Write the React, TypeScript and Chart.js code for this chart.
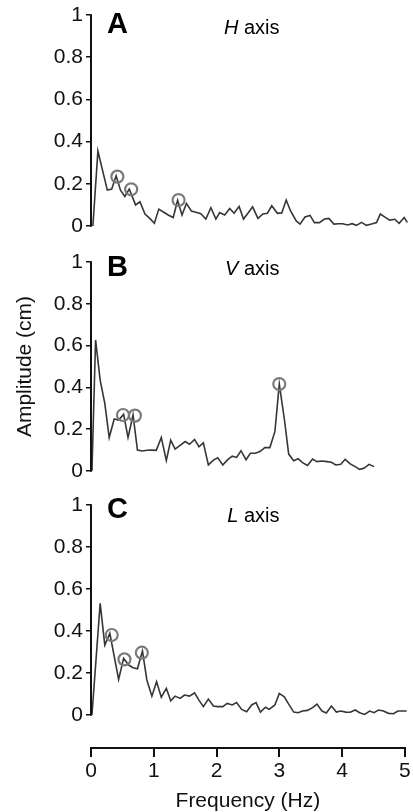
import React, { useEffect, useRef } from "react";
import { Chart, registerables } from "chart.js";

Chart.register(...registerables);

const FONT_FAMILY = "'Liberation Sans', Arial, Helvetica, sans-serif";
const INK = "#111111";
const LINE_COLOR = "#363636";
const CIRCLE_COLOR = "#7a7a7a";

// Axis ticks and labels
const yTickValues = [0, 0.2, 0.4, 0.6, 0.8, 1];
const xTickValues = [0, 1, 2, 3, 4, 5];
const panelLetters = ["A", "B", "C"];
const axisNames = ["H", "V", "L"];
const xAxisTitle = "Frequency (Hz)";
const yAxisTitle = "Amplitude (cm)";

// Panel A: H axis
const hFreq = [0.03, 0.11, 0.26, 0.33, 0.40, 0.47, 0.54, 0.61, 0.71, 0.78, 0.86, 0.94, 1.01, 1.08, 1.16, 1.23, 1.31, 1.38, 1.45, 1.52, 1.60, 1.67, 1.75, 1.83, 1.91, 1.99, 2.05, 2.13, 2.21, 2.28, 2.36, 2.43, 2.50, 2.575, 2.66, 2.74, 2.81, 2.88, 2.97, 3.04, 3.11, 3.18, 3.27, 3.33, 3.41, 3.49, 3.56, 3.64, 3.72, 3.79, 3.87, 3.94, 4.01, 4.09, 4.16, 4.23, 4.31, 4.39, 4.47, 4.55, 4.61, 4.69, 4.76, 4.84, 4.91, 4.99, 5.04];
const hAmp = [0, 0.355, 0.17, 0.175, 0.238, 0.17, 0.14, 0.175, 0.10, 0.115, 0.057, 0.035, 0.013, 0.08, 0.065, 0.052, 0.04, 0.122, 0.052, 0.107, 0.071, 0.065, 0.058, 0.033, 0.087, 0.033, 0.064, 0.052, 0.083, 0.06, 0.093, 0.033, 0.06, 0.091, 0.036, 0.057, 0.06, 0.096, 0.06, 0.062, 0.123, 0.071, 0.024, 0.009, 0.043, 0.05, 0.016, 0.016, 0.033, 0.036, 0.009, 0.011, 0.011, 0.005, 0.011, 0.003, 0.017, 0.003, 0.009, 0.016, 0.057, 0.041, 0.028, 0.032, 0.013, 0.04, 0.017];
const hPeakFreq = [0.42, 0.64, 1.395];
const hPeakAmp = [0.234, 0.174, 0.123];

// Panel B: V axis
const vFreq = [0.015, 0.073, 0.146, 0.22, 0.29, 0.37, 0.44, 0.52, 0.59, 0.67, 0.74, 0.82, 0.89, 0.97, 1.04, 1.12, 1.20, 1.27, 1.34, 1.42, 1.50, 1.57, 1.65, 1.72, 1.79, 1.87, 1.95, 2.02, 2.10, 2.17, 2.25, 2.32, 2.39, 2.47, 2.54, 2.62, 2.69, 2.77, 2.85, 2.93, 3.00, 3.08, 3.15, 3.23, 3.30, 3.37, 3.45, 3.53, 3.60, 3.68, 3.76, 3.83, 3.90, 3.98, 4.05, 4.13, 4.21, 4.28, 4.35, 4.43, 4.51];
const vAmp = [0, 0.627, 0.435, 0.324, 0.16, 0.249, 0.244, 0.271, 0.16, 0.268, 0.10, 0.096, 0.099, 0.10, 0.099, 0.16, 0.05, 0.148, 0.105, 0.123, 0.141, 0.128, 0.151, 0.116, 0.135, 0.029, 0.052, 0.063, 0.029, 0.052, 0.071, 0.065, 0.097, 0.054, 0.085, 0.085, 0.093, 0.112, 0.112, 0.188, 0.416, 0.25, 0.081, 0.049, 0.059, 0.04, 0.026, 0.057, 0.045, 0.048, 0.045, 0.042, 0.029, 0.032, 0.056, 0.034, 0.021, 0.008, 0.013, 0.032, 0.021];
const vPeakFreq = [0.51, 0.70, 3.0];
const vPeakAmp = [0.268, 0.265, 0.416];

// Panel C: L axis
const lFreq = [0.015, 0.146, 0.22, 0.30, 0.44, 0.52, 0.60, 0.67, 0.74, 0.82, 0.89, 0.97, 1.045, 1.12, 1.20, 1.27, 1.34, 1.42, 1.49, 1.57, 1.65, 1.72, 1.79, 1.87, 1.95, 2.02, 2.10, 2.17, 2.25, 2.32, 2.40, 2.48, 2.56, 2.63, 2.70, 2.78, 2.84, 2.93, 3.0, 3.08, 3.15, 3.23, 3.30, 3.37, 3.45, 3.53, 3.60, 3.68, 3.75, 3.83, 3.91, 3.98, 4.06, 4.13, 4.21, 4.28, 4.36, 4.44, 4.51, 4.58, 4.66, 4.74, 4.82, 4.89, 4.97, 5.03];
const lAmp = [0, 0.532, 0.333, 0.389, 0.17, 0.27, 0.238, 0.225, 0.22, 0.305, 0.167, 0.09, 0.159, 0.085, 0.127, 0.068, 0.09, 0.079, 0.095, 0.09, 0.106, 0.071, 0.04, 0.076, 0.043, 0.04, 0.04, 0.055, 0.048, 0.059, 0.027, 0.016, 0.048, 0.059, 0.014, 0.037, 0.027, 0.048, 0.103, 0.087, 0.052, 0.014, 0.011, 0.019, 0.022, 0.035, 0.052, 0.019, 0.01, 0.043, 0.014, 0.019, 0.014, 0.013, 0.024, 0.011, 0.003, 0.019, 0.011, 0.024, 0.019, 0.008, 0.006, 0.019, 0.019, 0.019];
const lPeakFreq = [0.33, 0.533, 0.81];
const lPeakAmp = [0.381, 0.265, 0.297];

type PanelProps = {
  top: number;
  height: number;
  padTop: number;
  padBottom: number;
  yMin: number;
  freq: number[];
  amp: number[];
  peakFreq: number[];
  peakAmp: number[];
  showX: boolean;
  showYTitle: boolean;
};

const axisLinePlugin = {
  id: "axisLine",
  afterDraw(chart: any) {
    const { ctx, chartArea, scales } = chart;
    const y = scales.y;
    ctx.save();
    ctx.strokeStyle = INK;
    ctx.lineWidth = 2;
    ctx.beginPath();
    ctx.moveTo(chartArea.left, y.getPixelForValue(1) - 0.75);
    ctx.lineTo(chartArea.left, y.getPixelForValue(0) + 0.75);
    ctx.stroke();
    ctx.restore();
  },
};

function Panel(p: PanelProps) {
  const ref = useRef<HTMLCanvasElement | null>(null);
  useEffect(() => {
    if (!ref.current) return;
    const tickFont = { family: FONT_FAMILY, size: 21 };
    const chart = new Chart(ref.current, {
      type: "scatter",
      data: {
        datasets: [
          {
            data: p.peakFreq.map((f, i) => ({ x: f, y: p.peakAmp[i] })),
            showLine: false,
            pointRadius: 6,
            pointBorderWidth: 2.2,
            borderColor: CIRCLE_COLOR,
            pointBorderColor: CIRCLE_COLOR,
            backgroundColor: "rgba(0,0,0,0)",
            pointBackgroundColor: "rgba(0,0,0,0)",
            clip: false,
            order: 1,
          } as any,
          {
            data: p.freq.map((f, i) => ({ x: f, y: p.amp[i] })),
            showLine: true,
            borderColor: LINE_COLOR,
            borderWidth: 1.6,
            pointRadius: 0,
            tension: 0,
            clip: false,
            order: 2,
          } as any,
        ],
      },
      options: {
        responsive: false,
        animation: false,
        devicePixelRatio: 1,
        events: [],
        layout: { padding: { left: 0, right: 4, top: p.padTop, bottom: p.padBottom } },
        plugins: { legend: { display: false }, tooltip: { enabled: false } },
        scales: {
          x: {
            type: "linear",
            min: 0,
            max: 5,
            display: p.showX,
            afterBuildTicks: (s: any) => {
              s.ticks = xTickValues.map((v) => ({ value: v }));
            },
            afterFit: (s: any) => {
              if (p.showX) s.height = 64;
              s.paddingLeft = 0;
              s.paddingRight = 0;
            },
            ticks: {
              font: tickFont,
              color: INK,
              padding: 2,
              maxRotation: 0,
              autoSkip: false,
              callback: (v: any) => String(v),
            },
            grid: { drawOnChartArea: false, drawTicks: true, tickLength: 9, color: INK, lineWidth: 2 },
            border: { display: true, color: INK, width: 2 },
            title: {
              display: true,
              text: xAxisTitle,
              color: INK,
              font: { family: FONT_FAMILY, size: 21, lineHeight: 1 },
              padding: 0,
            },
          } as any,
          y: {
            type: "linear",
            min: p.yMin,
            max: 1,
            afterBuildTicks: (s: any) => {
              s.ticks = yTickValues.map((v) => ({ value: v }));
            },
            afterFit: (s: any) => {
              s.width = 91;
              s.paddingTop = 0;
              s.paddingBottom = 0;
            },
            ticks: {
              font: tickFont,
              color: INK,
              padding: 3,
              autoSkip: false,
              callback: (v: any) => String(v),
            },
            grid: { drawOnChartArea: false, drawTicks: true, tickLength: 5, color: INK, lineWidth: 1.5 },
            border: { display: false },
            title: {
              display: p.showYTitle,
              text: yAxisTitle,
              color: INK,
              font: { family: FONT_FAMILY, size: 21 },
              padding: { top: 13, bottom: 0 },
            },
          } as any,
        },
      },
      plugins: [axisLinePlugin],
    });
    return () => chart.destroy();
  }, []);
  return (
    <canvas
      ref={ref}
      width={413}
      height={p.height}
      style={{ position: "absolute", left: 0, top: p.top, width: 413, height: p.height, display: "block" }}
    />
  );
}

const letterTops = [8.8, 252.2, 493.8];
const nameTops = [17.1, 258.1, 504.8];

export default function App() {
  return (
    <div style={{ position: "absolute", left: 0, top: 0, width: 413, height: 812, background: "#fff", overflow: "hidden" }}>
      <Panel top={0} height={244} padTop={15} padBottom={18} yMin={0} freq={hFreq} amp={hAmp} peakFreq={hPeakFreq} peakAmp={hPeakAmp} showX={false} showYTitle={false} />
      <Panel top={244} height={244} padTop={18} padBottom={17} yMin={0} freq={vFreq} amp={vAmp} peakFreq={vPeakFreq} peakAmp={vPeakAmp} showX={false} showYTitle={true} />
      <Panel top={488} height={324} padTop={17} padBottom={0} yMin={-0.157} freq={lFreq} amp={lAmp} peakFreq={lPeakFreq} peakAmp={lPeakAmp} showX={true} showYTitle={false} />
      {panelLetters.map((l, i) => (
        <div
          key={l}
          style={{
            position: "absolute",
            left: 107,
            top: letterTops[i],
            fontFamily: FONT_FAMILY,
            fontWeight: "bold",
            fontSize: 29,
            lineHeight: 1,
            color: "#000",
          }}
        >
          {l}
        </div>
      ))}
      {axisNames.map((n, i) => (
        <div
          key={n}
          style={{
            position: "absolute",
            left: 0,
            width: 279.5,
            textAlign: "right",
            top: nameTops[i],
            fontFamily: FONT_FAMILY,
            fontSize: 20,
            lineHeight: 1,
            color: "#000",
            whiteSpace: "nowrap",
          }}
        >
          <i>{n}</i> axis
        </div>
      ))}
    </div>
  );
}
